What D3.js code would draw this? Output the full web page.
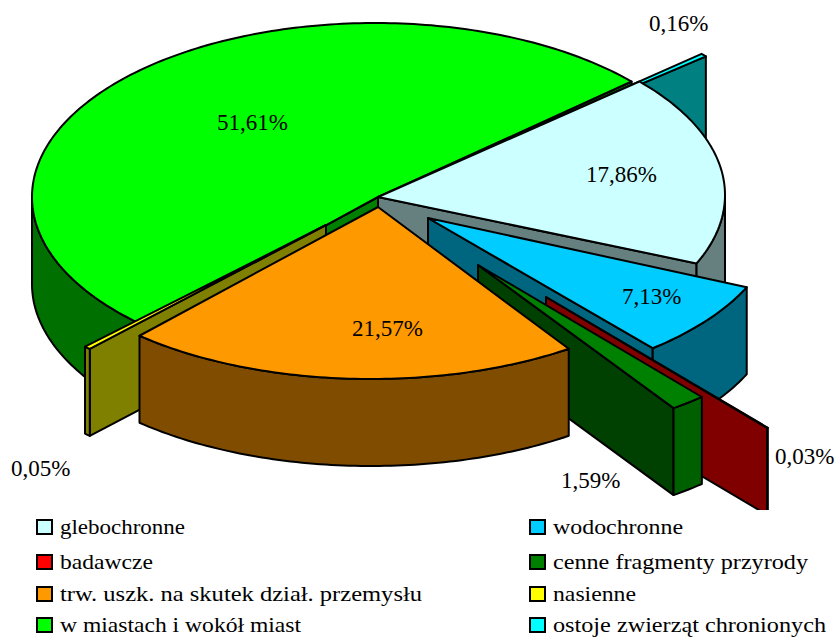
<!DOCTYPE html>
<html>
<head>
<meta charset="utf-8">
<script src="https://cdn.jsdelivr.net/npm/d3@7"></script>
<style>
  body { margin: 0; background: #fff; }
  text { font-family: "Liberation Serif", serif; fill: #000; }
</style>
</head>
<body>
<div id="chart"></div>
<script>
// values (percent)
var categories = ["glebochronne", "wodochronne", "badawcze", "cenne fragmenty przyrody",
  "trw. uszk. na skutek dział. przemysłu", "nasienne", "w miastach i wokół miast", "ostoje zwierząt chronionych"];
var shares = [17.86, 7.13, 0.03, 1.59, 21.57, 0.05, 51.61, 0.16];

var topColors = ["#ccffff", "#00ccff", "#ff0000", "#008000", "#ff9900", "#ffff00", "#00ff00", "#00ffff"];
var wallColors = ["#668080", "#006680", "#800000", "#004000", "#804d00", "#808000", "#008000", "#008080"];
var rimColors = ["#668080", "#006680", "#800000", "#006000", "#804d00", "#808000", "#007000", "#008080"];

// where every exploded slice sits: apex, ellipse centre and radii
var sliceLayout = [
  { ax: 378, ay: 197, cx: 376, cy: 195, rx: 349, ry: 173 },
  { ax: 428, ay: 218, cx: 417, cy: 220, rx: 359, ry: 170 },
  { ax: 546, ay: 297, cx: 538, cy: 298, rx: 350, ry: 172 },
  { ax: 478, ay: 265, cx: 466, cy: 261, rx: 360, ry: 180 },
  { ax: 378, ay: 207, cx: 371, cy: 214, rx: 343, ry: 165 },
  { ax: 326, ay: 225, cx: 324, cy: 222, rx: 347, ry: 172 },
  { ax: 378, ay: 197, cx: 375, cy: 197, rx: 343, ry: 174 },
  { ax: 444, ay: 168, cx: 442, cy: 168, rx: 347, ry: 172 }
];
// the two thinnest slices get a bit more sweep or their fill disappears under the outline
var extraSweep = [0, 0, 0, 0, 0, 0.9, 0, 0.5];
var drawOrder = [6, 7, 0, 1, 2, 3, 5, 4];
var depth = 87;

var labelPos = [[586, 182], [622, 304], [775, 464], [561, 488], [352, 336], [11, 476], [217, 130], [649, 31]];
var legendRows = [527, 562, 594, 625];
var legendWidths = [125, 130, 93, 255, 362, 83, 241, 273];

var width = 835, height = 638;
var rad = Math.PI / 180;

var svg = d3.select("#chart").append("svg")
  .attr("width", width)
  .attr("height", height)
  .style("display", "block");

var pie = d3.pie().sort(null)
  .startAngle(49 * rad)
  .endAngle(409 * rad);
var arcs = pie(shares);

var line = d3.line().x(function (d) { return d[0]; }).y(function (d) { return d[1]; });

function rimPoint(g, a, drop) {
  return [g.cx + g.rx * Math.sin(a), g.cy - g.ry * Math.cos(a) + (drop || 0)];
}

function rimPoints(g, a0, a1, drop) {
  var n = Math.max(2, Math.ceil((a1 - a0) / rad));
  return d3.range(n + 1).map(function (i) {
    return rimPoint(g, a0 + (a1 - a0) * i / n, drop);
  });
}

function face(pts, fill) {
  svg.append("path")
    .attr("d", line(pts) + "Z")
    .attr("fill", fill)
    .attr("stroke", "#000")
    .attr("stroke-width", 2)
    .attr("stroke-linejoin", "round");
}

function radialWall(g, a, fill) {
  var p = rimPoint(g, a);
  face([[g.ax, g.ay], p, [p[0], p[1] + depth], [g.ax, g.ay + depth]], fill);
}

drawOrder.forEach(function (i) {
  var g = sliceLayout[i];
  var a0 = arcs[i].startAngle;
  var a1 = arcs[i].endAngle + extraSweep[i] * rad;

  // side faces turned towards the viewer
  if (Math.sin(a0) < 0) radialWall(g, a0, wallColors[i]);
  if (Math.sin(a1) > 0) radialWall(g, a1, wallColors[i]);

  var r0 = Math.max(a0, 90 * rad), r1 = Math.min(a1, 270 * rad);
  if (r1 > r0) {
    face(rimPoints(g, r0, r1).concat(rimPoints(g, r0, r1, depth).reverse()), rimColors[i]);
  }

  face([[g.ax, g.ay]].concat(rimPoints(g, a0, a1)), topColors[i]);
});

// legend area cuts off whatever hangs below the pie
svg.append("rect")
  .attr("x", 0).attr("y", 510)
  .attr("width", width).attr("height", height - 510)
  .attr("fill", "#fff");

svg.selectAll(".pct")
  .data(shares)
  .enter().append("text")
  .attr("class", "pct")
  .attr("x", function (d, i) { return labelPos[i][0]; })
  .attr("y", function (d, i) { return labelPos[i][1]; })
  .style("font-size", "23px")
  .text(function (d) { return d.toFixed(2).replace(".", ",") + "%"; });

var legend = svg.selectAll(".leg")
  .data(categories)
  .enter().append("g")
  .attr("class", "leg")
  .attr("transform", function (d, i) {
    return "translate(" + (i % 2 ? 530 : 37) + "," + legendRows[Math.floor(i / 2)] + ")";
  });

legend.append("rect")
  .attr("x", 0).attr("y", -7)
  .attr("width", 15).attr("height", 14)
  .attr("fill", function (d, i) { return topColors[i]; })
  .attr("stroke", "#000")
  .attr("stroke-width", 2);

legend.append("text")
  .attr("x", 23)
  .attr("y", 7)
  .attr("textLength", function (d, i) { return legendWidths[i]; })
  .attr("lengthAdjust", "spacingAndGlyphs")
  .style("font-size", "21px")
  .text(function (d) { return d; });
</script>
</body>
</html>
